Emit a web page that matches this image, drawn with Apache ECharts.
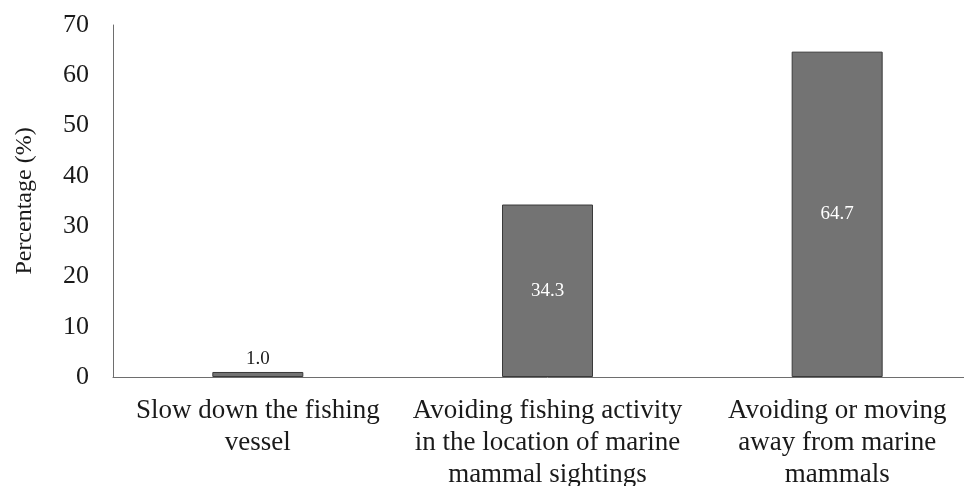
<!DOCTYPE html>
<html>
<head>
<meta charset="utf-8">
<script src="https://cdn.jsdelivr.net/npm/echarts@6/dist/echarts.min.js"></script>
<style>
  html, body { margin: 0; padding: 0; background: #fff; overflow: hidden; }
  /* plot runs slightly past the right edge of the window */
  #chart { width: 982px; height: 486px; }
</style>
</head>
<body>
<div id="chart"></div>
<script>
// Responses to marine mammal encounters
const categories = [
  'Slow down the fishing\nvessel',
  'Avoiding fishing activity\nin the location of marine\nmammal sightings',
  'Avoiding or moving\naway from marine\nmammals'
];
const percentages = [1.0, 34.3, 64.7];
const yTicks = [0, 10, 20, 30, 40, 50, 60, 70];

const font = '"Liberation Serif", "Times New Roman", serif';

const chart = echarts.init(document.getElementById('chart'));
chart.setOption({
  animation: false,
  grid: {
    left: 113, right: 0, top: 25, bottom: 109,
    containLabel: false, outerBoundsMode: 'none'
  },
  xAxis: {
    type: 'category',
    data: categories,
    axisLine: { show: true, lineStyle: { color: '#6e6e6e', width: 1 } },
    axisTick: { show: false },
    axisLabel: {
      fontFamily: font, fontSize: 27, color: '#1a1a1a', lineHeight: 32,
      margin: 18, interval: 0
    }
  },
  yAxis: {
    type: 'value',
    min: yTicks[0],
    max: yTicks[yTicks.length - 1],
    interval: 10,
    name: 'Percentage (%)',
    nameLocation: 'middle',
    nameGap: 76,
    nameTextStyle: { fontFamily: font, fontSize: 24, color: '#1a1a1a' },
    axisLine: { show: true, lineStyle: { color: '#6e6e6e', width: 1 } },
    axisTick: { show: false },
    splitLine: { show: false },
    axisLabel: { fontFamily: font, fontSize: 26, color: '#1a1a1a', margin: 24 }
  },
  series: [{
    type: 'bar',
    data: percentages.map(v => ({
      value: v,
      label: v < 5
        ? { show: true, position: 'top', color: '#1a1a1a', distance: 3 }
        : { show: true, position: 'inside', color: '#fff' }
    })),
    barWidth: 91,
    itemStyle: { color: '#737373', borderColor: '#3a3a3a', borderWidth: 1 },
    label: {
      show: true,
      fontFamily: font,
      fontSize: 19,
      formatter: p => p.value.toFixed(1)
    }
  }]
});
</script>
</body>
</html>
